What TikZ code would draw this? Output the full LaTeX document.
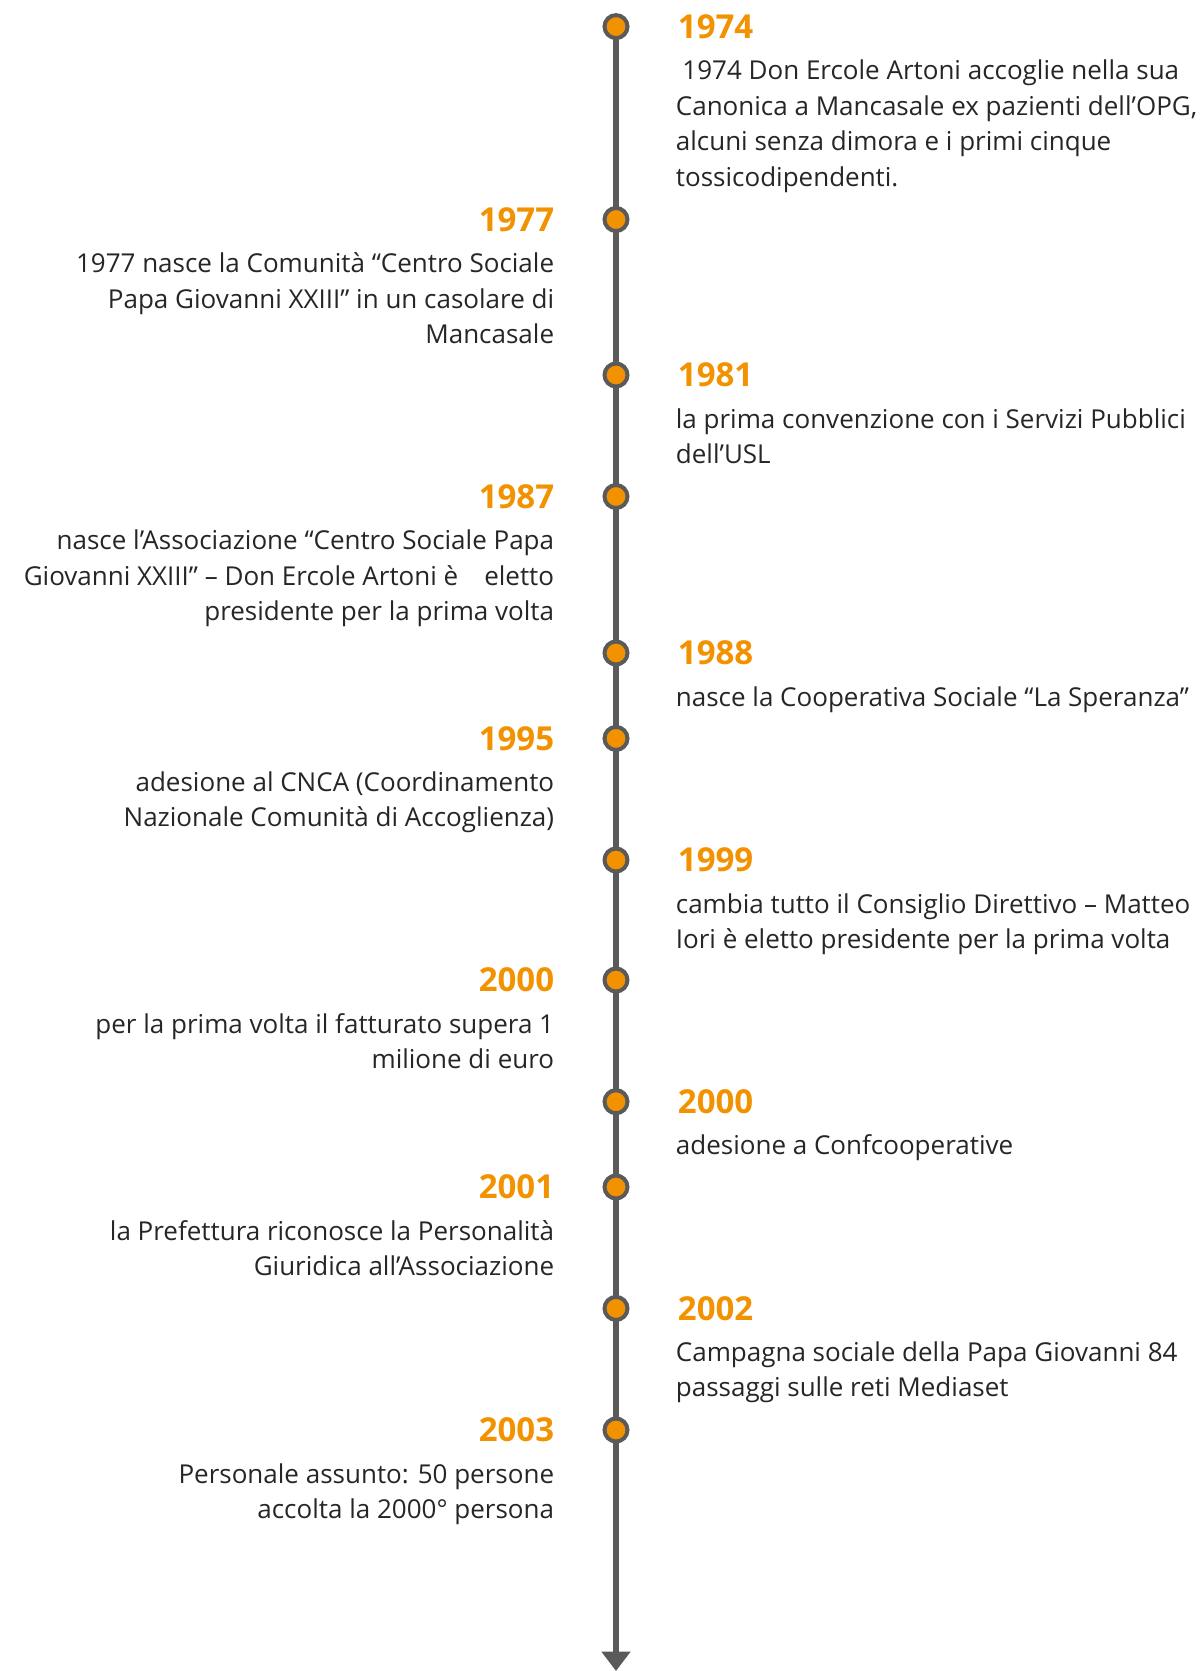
\documentclass[tikz,border=0pt]{standalone}
\usepackage{fontspec}
\setmainfont{Open Sans}
\usetikzlibrary{positioning,arrows.meta}
\definecolor{tlorange}{RGB}{243,146,0}
\definecolor{tlgray}{RGB}{90,90,90}
\definecolor{tltext}{RGB}{38,38,38}
\tikzset{
  dot/.style={circle,draw=tlgray,fill=tlorange,line width=2pt,minimum size=11.5pt,inner sep=0pt},
  year/.style={font=\bfseries\fontsize{16.5}{18}\selectfont,text=tlorange,inner sep=0pt},
  txtr/.style={font=\fontsize{13}{17.75}\selectfont,text=tltext,inner sep=0pt,anchor=base west},
  txtl/.style={font=\fontsize{13}{17.75}\selectfont,text=tltext,inner sep=0pt,anchor=base east},
}
\newcommand{\linesr}[1]{\begin{tabular}[t]{@{}l@{}}#1\end{tabular}}
\newcommand{\linesl}[1]{\begin{tabular}[t]{@{}r@{}}#1\end{tabular}}

\begin{document}
\begin{tikzpicture}[x=0.5pt,y=-0.5pt]
    \useasboundingbox (0,0) rectangle (1204,1671);

    % axis
    \coordinate (top) at (616,26.6);
    \coordinate (end) at (616,1671);
    \draw[tlgray,line width=2.6pt,-{Triangle[width=14pt,length=9.7pt]}] (top) -- (end);

    % dots
    \node[dot] (d1)  at (616,26.6)   {};
    \node[dot] (d2)  at (616,219.5)  {};
    \node[dot] (d3)  at (616,375)    {};
    \node[dot] (d4)  at (616,496.5)  {};
    \node[dot] (d5)  at (616,653)    {};
    \node[dot] (d6)  at (616,738.4)  {};
    \node[dot] (d7)  at (616,860)    {};
    \node[dot] (d8)  at (616,980)    {};
    \node[dot] (d9)  at (616,1101.7) {};
    \node[dot] (d10) at (616,1187)   {};
    \node[dot] (d11) at (616,1308.4) {};
    \node[dot] (d12) at (616,1430)   {};

    % years
    \node[year,right=24pt of d1]  (y1)  {1974};
    \node[year,left=24pt of d2]   (y2)  {1977};
    \node[year,right=24pt of d3]  (y3)  {1981};
    \node[year,left=24pt of d4]   (y4)  {1987};
    \node[year,right=24pt of d5]  (y5)  {1988};
    \node[year,left=24pt of d6]   (y6)  {1995};
    \node[year,right=24pt of d7]  (y7)  {1999};
    \node[year,left=24pt of d8]   (y8)  {2000};
    \node[year,right=24pt of d9]  (y9)  {2000};
    \node[year,left=24pt of d10]  (y10) {2001};
    \node[year,right=24pt of d11] (y11) {2002};
    \node[year,left=24pt of d12]  (y12) {2003};

    % texts
    \node[txtr] (t1) at ([xshift=-1pt,yshift=-26.5pt]y1.west)
      {\linesr{\hspace{0.25em}1974 Don Ercole Artoni accoglie nella sua\\Canonica a Mancasale ex pazienti dell’OPG,\\alcuni senza dimora e i primi cinque\\tossicodipendenti.}};
    \node[txtl] (t2) at ([yshift=-26.5pt]y2.east)
      {\linesl{1977 nasce la Comunità “Centro Sociale\\Papa Giovanni XXIII” in un casolare di\\Mancasale}};
    \node[txtr] (t3) at ([xshift=-1pt,yshift=-26.5pt]y3.west)
      {\linesr{la prima convenzione con i Servizi Pubblici\\dell’USL}};
    \node[txtl] (t4) at ([yshift=-26.5pt]y4.east)
      {\linesl{nasce l’Associazione “Centro Sociale Papa\\Giovanni XXIII” – Don Ercole Artoni è\quad eletto\\presidente per la prima volta}};
    \node[txtr] (t5) at ([xshift=-1pt,yshift=-26.5pt]y5.west)
      {\linesr{nasce la Cooperativa Sociale “La Speranza”}};
    \node[txtl] (t6) at ([yshift=-26.5pt]y6.east)
      {\linesl{adesione al CNCA (Coordinamento\\Nazionale Comunità di Accoglienza)}};
    \node[txtr] (t7) at ([xshift=-1pt,yshift=-26.5pt]y7.west)
      {\linesr{cambia tutto il Consiglio Direttivo – Matteo\\Iori è eletto presidente per la prima volta}};
    \node[txtl] (t8) at ([yshift=-26.5pt]y8.east)
      {\linesl{per la prima volta il fatturato supera 1\\milione di euro}};
    \node[txtr] (t9) at ([xshift=-1pt,yshift=-26.5pt]y9.west)
      {\linesr{adesione a Confcooperative}};
    \node[txtl] (t10) at ([yshift=-26.5pt]y10.east)
      {\linesl{la Prefettura riconosce la Personalità\\Giuridica all’Associazione}};
    \node[txtr] (t11) at ([xshift=-1pt,yshift=-26.5pt]y11.west)
      {\linesr{Campagna sociale della Papa Giovanni 84\\passaggi sulle reti Mediaset}};
    \node[txtl] (t12) at ([yshift=-26.5pt]y12.east)
      {\linesl{Personale assunto: 50 persone\\accolta la 2000° persona}};
\end{tikzpicture}
\end{document}
